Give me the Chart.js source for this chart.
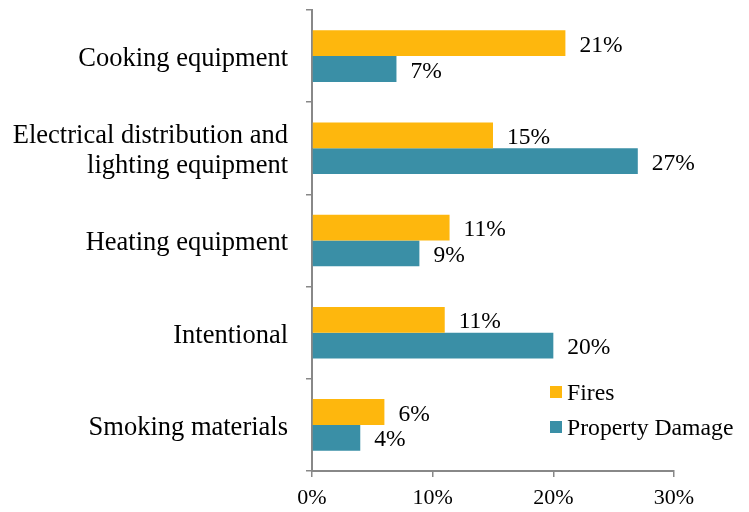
<!DOCTYPE html>
<html>
<head>
<meta charset="utf-8">
<script src="https://cdn.jsdelivr.net/npm/chart.js@4"></script>
<style>
html,body{margin:0;padding:0;background:#fff;}
#wrap{width:749px;height:512px;position:relative;}
</style>
</head>
<body>
<div id="wrap"><canvas id="c" width="749" height="512"></canvas></div>
<script>
const categories = [
  "Cooking equipment",
  ["Electrical distribution and", "lighting equipment"],
  "Heating equipment",
  "Intentional",
  "Smoking materials"
];
const seriesNames = ["Fires", "Property Damage"];
const fires = [21, 15, 11.4, 11, 6];
const propertyDamage = [7, 27, 8.9, 20, 4];
const xTicks = [0, 10, 20, 30];

const colors = ["#FEB70D", "#3A8FA6"];
const FONT = "'Liberation Serif', 'Times New Roman', serif";

const dataLabels = {
  id: 'dataLabels',
  afterDatasetsDraw(chart) {
    const ctx = chart.ctx;
    ctx.save();
    ctx.font = "23.5px " + FONT;
    ctx.fillStyle = "#000";
    ctx.textAlign = "left";
    ctx.textBaseline = "middle";
    chart.data.datasets.forEach((ds, i) => {
      const meta = chart.getDatasetMeta(i);
      meta.data.forEach((el, j) => {
        ctx.fillText(Math.round(ds.data[j]) + "%", el.x + 14, el.y + 2.5);
      });
    });
    ctx.restore();
  }
};

const customLegend = {
  id: 'customLegend',
  afterDraw(chart) {
    const ctx = chart.ctx;
    const a = chart.chartArea;
    ctx.save();
    ctx.font = "23.7px " + FONT;
    ctx.textBaseline = "middle";
    ctx.textAlign = "left";
    chart.data.datasets.forEach((ds, i) => {
      const x = a.right - 124;
      const y = a.bottom - 79 + i * 35;
      ctx.fillStyle = ds.backgroundColor;
      ctx.fillRect(x, y - 6, 12, 12);
      ctx.fillStyle = "#000";
      ctx.fillText(ds.label, x + 17, y + 1.5);
    });
    ctx.restore();
  }
};

new Chart(document.getElementById('c'), {
  type: 'bar',
  data: {
    labels: categories,
    datasets: [
      { label: seriesNames[0], data: fires, backgroundColor: colors[0] },
      { label: seriesNames[1], data: propertyDamage, backgroundColor: colors[1] }
    ]
  },
  options: {
    indexAxis: 'y',
    responsive: false,
    animation: false,
    devicePixelRatio: 1,
    layout: { padding: { top: 10, right: 75, left: 0, bottom: 0 } },
    datasets: { bar: { categoryPercentage: 0.56, barPercentage: 1.0 } },
    plugins: { legend: { display: false }, tooltip: { enabled: false } },
    scales: {
      x: {
        min: 0, max: 30,
        afterBuildTicks(scale) { scale.ticks = xTicks.map(v => ({ value: v })); },
        afterFit(scale) { scale.height = 41; },
        ticks: {
          callback: v => v + "%",
          color: "#000",
          font: { family: FONT, size: 22 },
          padding: 8
        },
        grid: { drawOnChartArea: false, drawTicks: true, tickLength: 6, color: "#888", lineWidth: 1.5 },
        border: { display: true, color: "#888", width: 2 }
      },
      y: {
        afterFit(scale) { scale.width = 312; scale.paddingTop = 0; scale.paddingBottom = 0; },
        ticks: {
          color: "#000",
          font: { family: FONT, size: 26.5, lineHeight: 1.13 },
          padding: 18,
          labelOffset: 3
        },
        grid: { offset: true, drawOnChartArea: false, drawTicks: true, tickLength: 6, color: "#888", lineWidth: 1.5 },
        border: { display: true, color: "#888", width: 2 }
      }
    }
  },
  plugins: [dataLabels, customLegend]
});
</script>
</body>
</html>
